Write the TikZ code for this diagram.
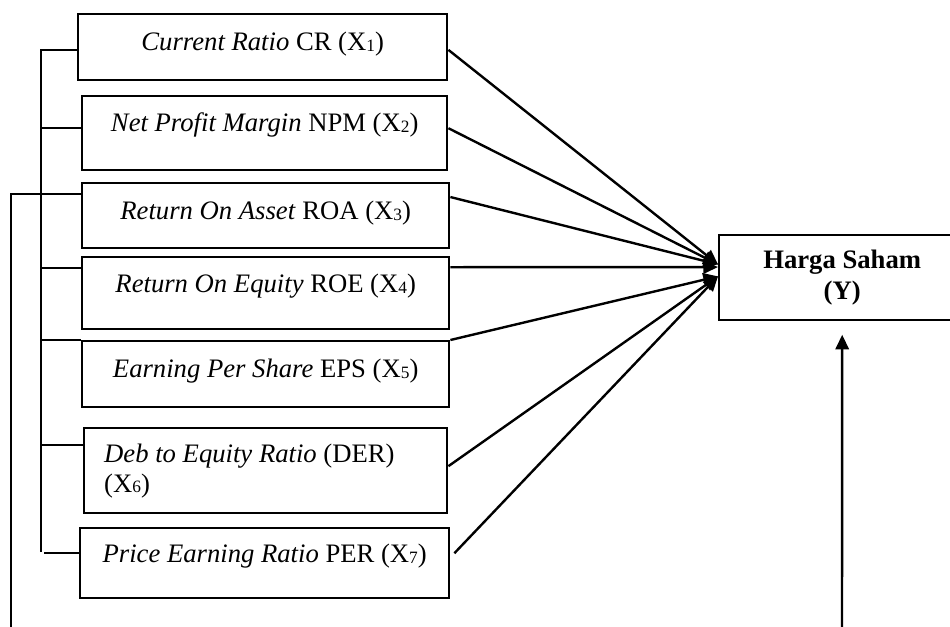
\documentclass[tikz,border=0pt]{standalone}
\usepackage{fontspec}
\setmainfont{Liberation Serif}
\usetikzlibrary{arrows.meta}

\tikzset{every picture/.style={line width=1.8pt}}
\tikzset{
  var/.style={draw, anchor=north west, inner sep=0pt, text height=14pt, font=\fontsize{20}{23}\selectfont},
  arr/.style={-{Triangle[length=11pt,width=10pt]}}
}
\newcommand{\sbs}[1]{\raisebox{-0.5pt}{\fontsize{13}{13}\selectfont #1}}

\begin{document}
\begin{tikzpicture}[x=0.75pt,y=0.75pt,yscale=-1,xscale=1]
\useasboundingbox (0,0) rectangle (950,626);
\clip (0,0) rectangle (950,626);

% Variable boxes
\node[var, minimum width=276.75pt, minimum height=49.5pt, text depth=8.6pt] (cr) at (77,13) {\textit{Current Ratio} CR (X\sbs{1})};
\node[var, minimum width=273.75pt, minimum height=55.5pt, text depth=16.2pt] (npm) at (81,95) {\textit{Net Profit Margin} NPM (X\sbs{2})};
\node[var, minimum width=275.25pt, minimum height=48.75pt, text depth=7.6pt] (roa) at (81,182) {\textit{Return On Asset} ROA (X\sbs{3})};
\node[var, minimum width=275.25pt, minimum height=54pt, text depth=15pt] (roe) at (81,256) {\textit{Return On Equity} ROE (X\sbs{4})};
\node[var, minimum width=275.25pt, minimum height=49.5pt, text depth=9pt] (eps) at (81,340) {\textit{Earning Per Share} EPS (X\sbs{5})};
\node[draw, anchor=north west, inner xsep=15pt, inner ysep=0pt, minimum width=272.25pt, minimum height=63.75pt, text width=242.25pt, align=flush left, font=\fontsize{20}{22.5}\selectfont] (der) at (83,427) {\textit{Deb to Equity Ratio} (DER)\\(X\sbs{6})};
\node[var, minimum width=276.75pt, minimum height=52.5pt, text depth=15pt] (per) at (79,527) {\textit{Price Earning Ratio} PER (X\sbs{7})};

% Dependent variable
\node[draw, anchor=north west, minimum width=184.5pt, minimum height=63.75pt, align=center, font=\fontsize{20}{23}\selectfont\bfseries] (hs) at (718,234) {Harga Saham\\(Y)};

% yscale=-1: positive yshift goes down
\coordinate (inA) at ([yshift=-10pt]hs.west);
\coordinate (inB) at ([yshift=-8pt]hs.west);
\coordinate (inC) at ([yshift=-1pt]hs.west);
\coordinate (base) at (842,640);
\coordinate (outer) at (11,640);

% Arrows into Y
\draw[arr] ([yshift=2pt]cr.east) -- (inA);
\draw[arr] ([yshift=-3.75pt]npm.east) -- (inA);
\draw[arr] ([yshift=-14pt]roa.east) -- (inA);
\draw[arr] ([yshift=-19.5pt]roe.east) -- (inB);
\draw[arr] (eps.north east) -- (inC);
\draw[arr] ([yshift=-3.4pt]der.east) -- (inC);
\draw[arr] ([xshift=3pt,yshift=-7.5pt]per.east) -- (inC);
\draw[arr] (base) -- ([yshift=10pt]hs.south);

% Left bracket
\draw (41,49) -- (41,552);
\draw (cr.west) ++(0,3) -- ++(-36,0);
\draw (npm.west) ++(0,-5) -- ++(-40,0);
\draw (roe.west) ++(0,-25) -- ++(-40,0);
\draw (eps.north west) -- ++(-40,0);
\draw (der.west) ++(0,-25.5) -- ++(-42,0);
\draw (per.west) ++(0,-10) -- ++(-35,0);
\draw (roa.west) ++(0,-21.5) -| (outer);

\end{tikzpicture}
\end{document}
